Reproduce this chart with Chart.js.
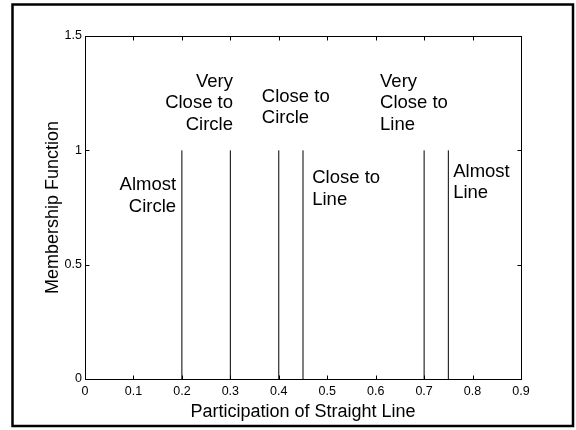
<!DOCTYPE html>
<html>
<head>
<meta charset="utf-8">
<script src="https://cdn.jsdelivr.net/npm/chart.js@4/dist/chart.umd.min.js"></script>
<style>
  html, body { margin: 0; padding: 0; background: #fff; }
  canvas { display: block; }
</style>
</head>
<body>
<canvas id="c" width="576" height="430"></canvas>
<script>
// Membership levels of each shape class along the straight-line participation axis
const classPositions = [0.2, 0.3, 0.4, 0.45, 0.7, 0.75];
const classMembership = [1, 1, 1, 1, 1, 1];

// Class names and where their captions sit (data units)
const classNames = [
  ['Almost', 'Circle'],
  ['Very', 'Close to', 'Circle'],
  ['Close to', 'Circle'],
  ['Close to', 'Line'],
  ['Very', 'Close to', 'Line'],
  ['Almost', 'Line']
];
const captionX = [0.188, 0.3055, 0.365, 0.469, 0.609, 0.760];
const captionY = [0.80, 1.207, 1.187, 0.831, 1.207, 0.859];
const captionAlign = ['right', 'right', 'left', 'left', 'left', 'left'];

// Axis ticks
const xTicks = [0, 0.1, 0.2, 0.3, 0.4, 0.5, 0.6, 0.7, 0.8, 0.9];
const yTicks = [0, 0.5, 1, 1.5];

const FONT = '"Liberation Sans", Arial, Helvetica, sans-serif';

const datasets = classPositions.map((p, i) => ({
  data: [{ x: p, y: 0 }, { x: p, y: classMembership[i] }],
  showLine: true,
  borderColor: '#000',
  borderWidth: 1,
  pointRadius: 0,
  fill: false
}));

const frameAndBox = {
  id: 'frameAndBox',
  afterDatasetsDraw(chart) {
    const { ctx, chartArea: a, scales: { x, y } } = chart;
    ctx.save();
    // plot box
    ctx.strokeStyle = '#000';
    ctx.lineWidth = 1;
    const L = Math.round(a.left) + 0.5, R = Math.round(a.right) + 0.5;
    const T = Math.round(a.top) + 0.5, B = Math.round(a.bottom) + 0.5;
    ctx.strokeRect(L, T, R - L, B - T);
    // inward ticks
    const tl = 4;
    ctx.beginPath();
    xTicks.forEach(v => {
      const px = Math.round(x.getPixelForValue(v)) + 0.5;
      ctx.moveTo(px, B); ctx.lineTo(px, B - tl);
      ctx.moveTo(px, T); ctx.lineTo(px, T + tl);
    });
    yTicks.forEach(v => {
      const py = Math.round(y.getPixelForValue(v)) + 0.5;
      ctx.moveTo(L, py); ctx.lineTo(L + tl, py);
      ctx.moveTo(R, py); ctx.lineTo(R - tl, py);
    });
    ctx.stroke();

    // class captions
    ctx.fillStyle = '#000';
    ctx.font = '18.5px ' + FONT;
    ctx.textBaseline = 'middle';
    const lh = 21.5;
    classNames.forEach((lines, i) => {
      const px = x.getPixelForValue(captionX[i]);
      const cy = y.getPixelForValue(captionY[i]);
      ctx.textAlign = captionAlign[i];
      lines.forEach((t, k) => {
        ctx.fillText(t, px, cy + (k - (lines.length - 1) / 2) * lh);
      });
    });

    // outer figure frame
    ctx.lineWidth = 2.5;
    ctx.strokeRect(12.5, 4.5, 560.5, 421.5);
    ctx.restore();
  }
};

const fmt = v => String(Number(Number(v).toFixed(2)));

new Chart(document.getElementById('c'), {
  type: 'scatter',
  data: { datasets },
  options: {
    responsive: false,
    devicePixelRatio: 1,
    animation: false,
    layout: { padding: { left: 0, top: 36, right: 55, bottom: 0 } },
    plugins: { legend: { display: false }, tooltip: { enabled: false } },
    scales: {
      x: {
        type: 'linear',
        min: 0, max: 0.9,
        afterBuildTicks: s => { s.ticks = xTicks.map(v => ({ value: v })); },
        afterFit: s => { s.height = 51; },
        grid: { display: false, drawTicks: false },
        border: { display: false },
        ticks: {
          padding: 5,
          maxRotation: 0,
          autoSkip: false,
          color: '#000',
          font: { family: FONT, size: 12.5 },
          callback: fmt
        },
        title: {
          display: true,
          text: 'Participation of Straight Line',
          color: '#000',
          font: { family: FONT, size: 18 },
          padding: { top: 0, bottom: 7 }
        }
      },
      y: {
        type: 'linear',
        min: 0, max: 1.5,
        afterBuildTicks: s => { s.ticks = yTicks.map(v => ({ value: v })); },
        afterFit: s => { s.width = 85; },
        grid: { display: false, drawTicks: false },
        border: { display: false },
        ticks: {
          padding: 3,
          autoSkip: false,
          color: '#000',
          font: { family: FONT, size: 12.5 },
          callback: fmt
        },
        title: {
          display: true,
          text: 'Membership Function',
          color: '#000',
          font: { family: FONT, size: 18 },
          padding: { top: 42, bottom: 0 }
        }
      }
    }
  },
  plugins: [frameAndBox]
});
</script>
</body>
</html>
